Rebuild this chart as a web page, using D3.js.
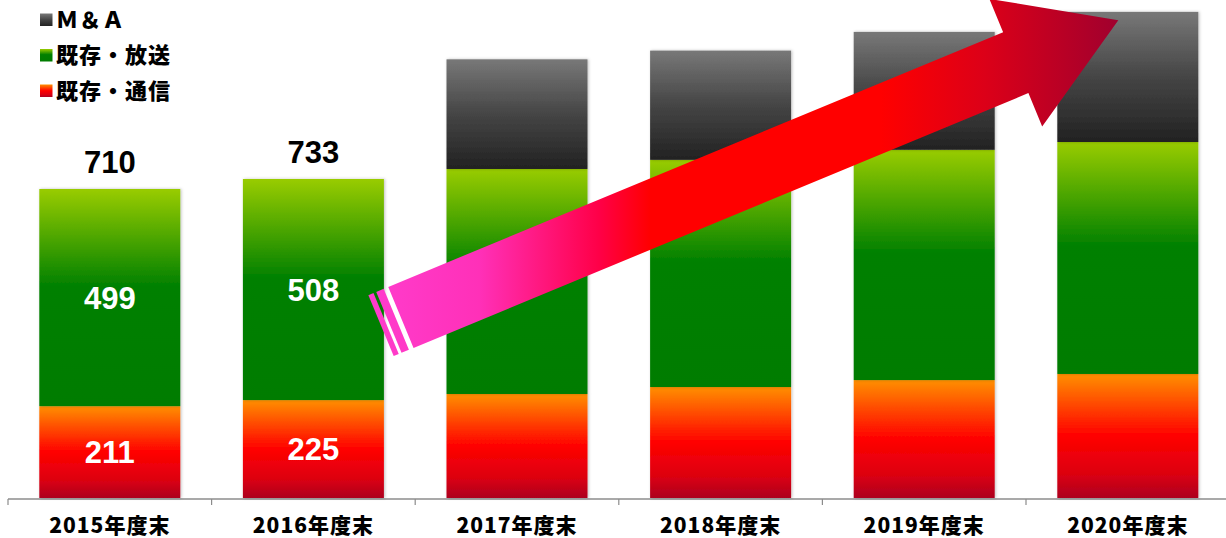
<!DOCTYPE html>
<html>
<head>
<meta charset="utf-8">
<script src="https://cdn.jsdelivr.net/npm/d3@7"></script>
<style>
    body { margin: 0; background: #fff; }
    svg { display: block; }
</style>
</head>
<body>
<svg id="chart" width="1226" height="538"></svg>
<script>
'use strict';

const categories = ['2015年度末', '2016年度末', '2017年度末', '2018年度末', '2019年度末', '2020年度末'];
const tsushin = [211, 225, 239, 255, 271, 285];   // 既存・通信
const housou = [499, 508, 517, 522, 529, 533];    // 既存・放送
const ma = [0, 0, 252, 251, 271, 299];            // M&A
const labeled = ['2015年度末', '2016年度末'];       // bars that carry value labels
const seriesNames = ['Ｍ＆Ａ', '既存・放送', '既存・通信'];

class StackChart {
    constructor(el) {
        this.svg = d3.select(el);
        this.width = 1226;
        this.baseline = 498;
        this.setUpDefs();
        this.setUpEnvironment();
        this.drawChart();
    }

    setUpDefs() {
        const defs = this.svg.append('defs');
        const grad = (id, stops) => {
            const g = defs.append('linearGradient').attr('id', id)
                .attr('x1', 0).attr('y1', 0).attr('x2', 0).attr('y2', 1);
            stops.forEach(s => g.append('stop').attr('offset', s[0]).attr('stop-color', s[1]));
        };
        grad('g-red', [[0, '#ff8f00'], [0.5, '#ff0000'], [0.8, '#dd0010'], [1, '#ad0020']]);
        grad('g-green', [[0, '#99cc00'], [0.45, '#008000'], [1, '#007c00']]);
        grad('g-grey', [[0, '#787878'], [0.5, '#454545'], [1, '#222222']]);

        const f = defs.append('filter').attr('id', 'shadow')
            .attr('x', '-5%').attr('y', '-5%').attr('width', '112%').attr('height', '110%');
        f.append('feDropShadow').attr('dx', 1).attr('dy', 0).attr('stdDeviation', 1.5)
            .attr('flood-color', '#000').attr('flood-opacity', 0.25);
        this.defs = defs;
    }

    setUpEnvironment() {
        this.xScale = d3.scaleBand()
            .domain(categories)
            .range([8, 8 + 203.6 * categories.length])
            .paddingInner(0.3075)
            .paddingOuter(0.3075 / 2);

        this.yScale = d3.scaleLinear()
            .domain([0, 1142])
            .range([this.baseline, 1]);

        this.stacked = d3.stack()
            .keys(['tsushin', 'housou', 'ma'])(categories.map((c, i) => ({
                cat: c, tsushin: tsushin[i], housou: housou[i], ma: ma[i]
            })));
    }

    drawChart() {
        this.drawAxis();
        this.drawBars();
        this.drawLabels();
        this.drawLegend();
        this.drawArrow();
    }

    drawAxis() {
        const x = this.xScale;
        const g = this.svg.append('g').attr('transform', `translate(0,${this.baseline + 1})`);
        g.append('line').attr('x1', 8).attr('x2', this.width).attr('stroke', '#8c8c8c').attr('stroke-width', 1.5);
        const edges = categories.map(c => x(c) - x.step() * x.paddingInner() / 2);
        g.selectAll('line.tick').data(edges).enter().append('line')
            .attr('x1', d => d).attr('x2', d => d)
            .attr('y1', 0).attr('y2', 6)
            .attr('stroke', '#8c8c8c').attr('stroke-width', 1.2);

        const axis = d3.axisBottom(x).tickSize(0).tickPadding(0);
        const ax = this.svg.append('g').attr('transform', 'translate(0,533)').call(axis);
        ax.select('.domain').remove();
        ax.selectAll('text')
            .attr('dy', 0)
            .attr('fill', '#000')
            .style('font-family', '"Noto Sans CJK JP", sans-serif')
            .style('font-weight', 900)
            .style('font-size', '21px')
            .style('letter-spacing', '1px');
    }

    drawBars() {
        const fills = { tsushin: 'url(#g-red)', housou: 'url(#g-green)', ma: 'url(#g-grey)' };
        const layers = this.svg.append('g').selectAll('g')
            .data(this.stacked).enter().append('g')
            .attr('fill', d => fills[d.key]);

        layers.selectAll('rect')
            .data(d => d.filter(s => s[1] > s[0]))
            .enter().append('rect')
            .attr('x', d => this.xScale(d.data.cat))
            .attr('width', this.xScale.bandwidth())
            .attr('y', d => this.yScale(d[1]))
            .attr('height', d => this.yScale(d[0]) - this.yScale(d[1]))
            .attr('filter', 'url(#shadow)');
    }

    drawLabels() {
        const x = this.xScale, y = this.yScale;
        const cx = c => x(c) + x.bandwidth() / 2;
        const g = this.svg.append('g')
            .style('font-family', '"Liberation Sans", Arial, sans-serif')
            .style('font-weight', 700)
            .style('font-size', '31px')
            .attr('text-anchor', 'middle');

        labeled.forEach(c => {
            const i = categories.indexOf(c);
            const segs = [[0, tsushin[i]], [tsushin[i], tsushin[i] + housou[i]]];
            segs.forEach(s => {
                g.append('text')
                    .attr('x', cx(c))
                    .attr('y', (y(s[0]) + y(s[1])) / 2)
                    .attr('dy', '0.36em')
                    .attr('fill', '#fff')
                    .text(s[1] - s[0]);
            });
            const total = tsushin[i] + housou[i] + ma[i];
            g.append('text')
                .attr('x', cx(c))
                .attr('y', y(total) - 16)
                .attr('fill', '#000')
                .text(total);
        });
    }

    drawLegend() {
        const fills = ['url(#g-grey)', 'url(#g-green)', 'url(#g-red)'];
        const rows = [20, 55.5, 91];
        const g = this.svg.append('g');
        const item = g.selectAll('g').data(seriesNames).enter().append('g')
            .attr('transform', (d, i) => `translate(40,${rows[i]})`);
        item.append('rect')
            .attr('y', -6.5).attr('width', 12.5).attr('height', 12.5)
            .attr('fill', (d, i) => fills[i]);
        item.append('text')
            .attr('x', 16)
            .attr('dy', '0.36em')
            .style('font-family', '"Noto Sans CJK JP", sans-serif')
            .style('font-weight', 900)
            .style('font-size', '22px')
            .style('letter-spacing', '1px')
            .text(d => d);
    }

    drawArrow() {
        const x = this.xScale, y = this.yScale;
        // arrow runs from just right of the 2016 bar to the top of the 2020 bar
        const start = [x('2016年度末') + x.bandwidth() + 17, y(415)];
        const tip = [x('2020年度末') + 61, y(1098)];
        const dx = tip[0] - start[0], dy = tip[1] - start[1];
        const len = Math.hypot(dx, dy);
        const u = [dx / len, dy / len];
        const n = [-u[1], u[0]];
        const pt = (a, p) => [start[0] + u[0] * a + n[0] * p, start[1] + u[1] * a + n[1] * p];
        const shaft = 33, head = 69, headLen = 111;
        const body = len - headLen;

        const ag = this.defs.append('linearGradient').attr('id', 'g-arrow')
            .attr('gradientUnits', 'userSpaceOnUse')
            .attr('x1', start[0] - 25).attr('y1', 0).attr('x2', tip[0]).attr('y2', 0);
        [[0, '#ff3ccc'], [0.14, '#ff30b8'], [0.3, '#ff0048'], [0.37, '#ff0000'],
         [0.68, '#ff0000'], [0.82, '#dc0018'], [1, '#a0002e']]
            .forEach(s => ag.append('stop').attr('offset', s[0]).attr('stop-color', s[1]));

        const line = d3.line();
        const g = this.svg.append('g').attr('fill', 'url(#g-arrow)');
        g.append('path').attr('d', line([
            pt(0, -shaft), pt(body, -shaft), pt(body, -head), pt(len, 0),
            pt(body, head), pt(body, shaft), pt(0, shaft)
        ]) + 'Z');
        [[-13, -5], [-21.5, -16]].forEach(s => {
            g.append('path').attr('d', line([
                pt(s[0], -shaft), pt(s[1], -shaft), pt(s[1], shaft), pt(s[0], shaft)
            ]) + 'Z');
        });
    }
}

new StackChart('#chart');
</script>
</body>
</html>
